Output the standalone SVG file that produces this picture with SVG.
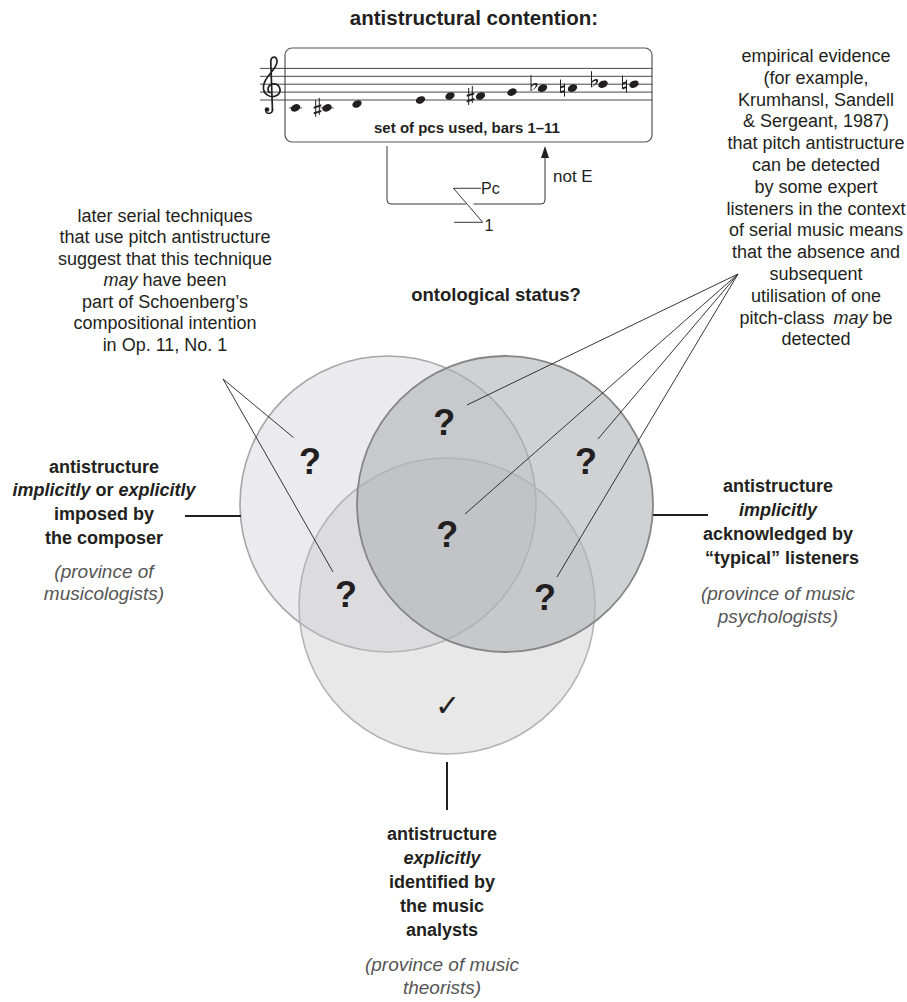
<svg xmlns="http://www.w3.org/2000/svg" width="907" height="1002" viewBox="0 0 907 1002">
<style>
text{font-family:"Liberation Sans",Arial,sans-serif;fill:#231f20}
.reg{font-size:18px;text-anchor:middle}
.lbl{font-size:18px;font-weight:bold;text-anchor:middle}
.prov{font-size:19px;font-style:italic;fill:#555;text-anchor:middle}
.q{font-size:36px;font-weight:bold;text-anchor:middle}
.it{font-style:italic}
.staff{stroke:#333;stroke-width:0.9}
.ln{stroke:#231f20;stroke-width:0.9;fill:none}
.conn{stroke:#231f20;stroke-width:2;fill:none}
.note{fill:#231f20}
</style>
<defs>
<g id="sharp"><path d="M-1.8,-8 V9 M1.8,-10 V7" stroke="#231f20" stroke-width="1"/><path d="M-3.8,-1.2 L3.8,-3.6 L3.8,-1.6 L-3.8,0.8 Z M-3.8,4.4 L3.8,2 L3.8,4 L-3.8,6.4 Z" fill="#231f20"/></g>
<g id="flat"><path d="M-2,-13 V3" stroke="#231f20" stroke-width="1"/><path d="M-2,3 C2,0.5 5,-1.5 4.5,-3.8 C4,-6 0.5,-5.5 -2,-2.5 L-2,-0.8 C0,-3.5 2.8,-4 2.8,-2.6 C2.8,-1 0.5,1 -2,3 Z" fill="#231f20"/></g>
<g id="natural"><path d="M-2,-8.5 V4.5 M2,-4.5 V8.5" stroke="#231f20" stroke-width="1"/><path d="M-2,-1.6 L2,-3 L2,-1 L-2,0.4 Z M-2,3.2 L2,1.8 L2,3.8 L-2,5.2 Z" fill="#231f20"/></g>
<ellipse id="head" rx="4.9" ry="3.5" transform="rotate(-25)"/>
</defs>

<g id="title"><text x="474" y="25" font-size="20.5" font-weight="bold" text-anchor="middle">antistructural contention:</text></g>

<g id="music">
<rect x="285" y="48" width="367" height="94" rx="7" fill="none" stroke="#555" stroke-width="1.2"/>
<g class="staff">
<line x1="260" y1="68.4" x2="652" y2="68.4"/>
<line x1="260" y1="76.3" x2="652" y2="76.3"/>
<line x1="260" y1="84.2" x2="652" y2="84.2"/>
<line x1="260" y1="92.1" x2="652" y2="92.1"/>
<line x1="260" y1="100" x2="652" y2="100"/>
<line x1="289" y1="107.9" x2="302" y2="107.9"/>
<line x1="320.5" y1="107.9" x2="333.5" y2="107.9"/>
</g>
<path d="M272.5,111 L270.8,62 C270.8,56 277.5,55 277,62 C276.5,70 264.5,76 263.5,86 C262.5,95 271.5,99 277.5,95 C282.5,91 279.5,83 272.5,84 C267.5,85 266.5,91 270.5,93" fill="none" stroke="#231f20" stroke-width="1.7"/>
<path d="M272.5,109 C273,114 266,115 265.5,110.5" fill="none" stroke="#231f20" stroke-width="1.4"/>
<circle cx="267" cy="109.5" r="2.3" fill="#231f20"/>
<g class="note">
<use href="#head" x="295.5" y="107.9"/>
<use href="#head" x="327" y="107.9"/>
<use href="#head" x="357" y="104"/>
<use href="#head" x="420.5" y="100"/>
<use href="#head" x="450" y="96"/>
<use href="#head" x="480.5" y="96"/>
<use href="#head" x="512" y="92.1"/>
<use href="#head" x="542.5" y="88.1"/>
<use href="#head" x="572.5" y="88.1"/>
<use href="#head" x="603" y="84.2"/>
<use href="#head" x="634" y="84.2"/>
</g>
<use href="#sharp" x="317.5" y="107.9"/>
<use href="#sharp" x="470.5" y="96"/>
<use href="#flat" x="533" y="88.1"/>
<use href="#natural" x="562.5" y="88.1"/>
<use href="#flat" x="593.5" y="84.2"/>
<use href="#natural" x="624.5" y="84.2"/>
<text x="467" y="133" font-size="15" font-weight="bold" text-anchor="middle">set of pcs used, bars 1–11</text>
</g>

<g id="bracket">
<path class="ln" d="M387,146 V200 Q387,204 391,204 H466" stroke-width="1.1"/>
<path class="ln" d="M473.5,204 H541 Q545,204 545,200 V156" stroke-width="1.1"/>
<polygon points="545,146 541,158 549,158" fill="#231f20"/>
<path class="ln" d="M481,188.3 H453.5 L482.7,222.3 H454" stroke-width="1.1"/>
<text x="481" y="193.5" font-size="16">Pc</text>
<text x="484.5" y="231" font-size="16">1</text>
<text x="553" y="182" font-size="17">not E</text>
</g>

<g id="question"><text x="496" y="301" font-size="18.5" font-weight="bold" text-anchor="middle">ontological status?</text></g>

<g id="note-left">
<text class="reg" x="165" y="221.5">later serial techniques</text>
<text class="reg" x="165" y="243">that use pitch antistructure</text>
<text class="reg" x="165" y="264.5">suggest that this technique</text>
<text class="reg" x="165" y="286"><tspan class="it">may</tspan> have been</text>
<text class="reg" x="165" y="307.5">part of Schoenberg’s</text>
<text class="reg" x="165" y="329">compositional intention</text>
<text class="reg" x="165" y="350.5">in Op. 11, No. 1</text>
</g>

<g id="note-right">
<text class="reg" x="816" y="62">empirical evidence</text>
<text class="reg" x="816" y="83.8">(for example,</text>
<text class="reg" x="816" y="105.6">Krumhansl, Sandell</text>
<text class="reg" x="816" y="127.4">&amp; Sergeant, 1987)</text>
<text class="reg" x="816" y="149.2">that pitch antistructure</text>
<text class="reg" x="816" y="171">can be detected</text>
<text class="reg" x="816" y="192.8">by some expert</text>
<text class="reg" x="816" y="214.6">listeners in the context</text>
<text class="reg" x="816" y="236.4">of serial music means</text>
<text class="reg" x="816" y="258.2">that the absence and</text>
<text class="reg" x="816" y="280">subsequent</text>
<text class="reg" x="816" y="301.8">utilisation of one</text>
<text class="reg" x="816" y="323.6">pitch-class <tspan class="it" dx="4">may</tspan> be</text>
<text class="reg" x="816" y="345.4">detected</text>
</g>

<g id="circle-composer"><circle cx="388" cy="504" r="148" fill="#ebebed" stroke="#a6a6a8" stroke-width="1.6"/></g>
<g id="circle-analysts"><circle cx="447" cy="606" r="148" fill="rgb(197,198,201)" fill-opacity="0.4" stroke="#b4b4b6" stroke-width="1.6"/></g>
<g id="circle-listeners"><circle cx="505" cy="504" r="148" fill="rgb(177,178,181)" fill-opacity="0.6" stroke="#858587" stroke-width="1.8"/></g>

<g id="marks">
<text class="q" x="444.3" y="435">?</text>
<text class="q" x="310" y="474">?</text>
<text class="q" x="586" y="474">?</text>
<text class="q" x="447.3" y="547">?</text>
<text class="q" x="346" y="607">?</text>
<text class="q" x="545" y="610">?</text>
<text x="447" y="716" font-family="DejaVu Sans,sans-serif" font-size="30" text-anchor="middle">✓</text>
</g>

<g id="connectors">
<path class="ln" d="M223,379 L293.5,437.5 M223,379 L333,572"/>
<path class="ln" d="M738,274 L467,405 M738,274 L465,514 M738,274 L598,439 M738,274 L557,577"/>
<line class="conn" x1="185" y1="516" x2="241" y2="516"/>
<line class="conn" x1="653" y1="515" x2="708" y2="515"/>
<line class="conn" x1="447" y1="762" x2="447" y2="810"/>
</g>

<g id="label-composer">
<text class="lbl" x="104" y="472.5">antistructure</text>
<text class="lbl" x="104" y="496"><tspan class="it">implicitly</tspan> or <tspan class="it">explicitly</tspan></text>
<text class="lbl" x="104" y="520">imposed by</text>
<text class="lbl" x="104" y="543.5">the composer</text>
<text class="prov" x="104" y="578">(province of</text>
<text class="prov" x="104" y="600">musicologists)</text>
</g>
<g id="label-listeners">
<text class="lbl" x="778" y="492">antistructure</text>
<text class="lbl" x="778" y="516"><tspan class="it">implicitly</tspan></text>
<text class="lbl" x="778" y="540">acknowledged by</text>
<text class="lbl" x="782" y="563.5">“typical” listeners</text>
<text class="prov" x="778" y="600">(province of music</text>
<text class="prov" x="778" y="623">psychologists)</text>
</g>
<g id="label-analysts">
<text class="lbl" x="442" y="840">antistructure</text>
<text class="lbl" x="442" y="864"><tspan class="it">explicitly</tspan></text>
<text class="lbl" x="442" y="888">identified by</text>
<text class="lbl" x="442" y="912">the music</text>
<text class="lbl" x="442" y="936">analysts</text>
<text class="prov" x="442" y="971">(province of music</text>
<text class="prov" x="442" y="994">theorists)</text>
</g>
</svg>
